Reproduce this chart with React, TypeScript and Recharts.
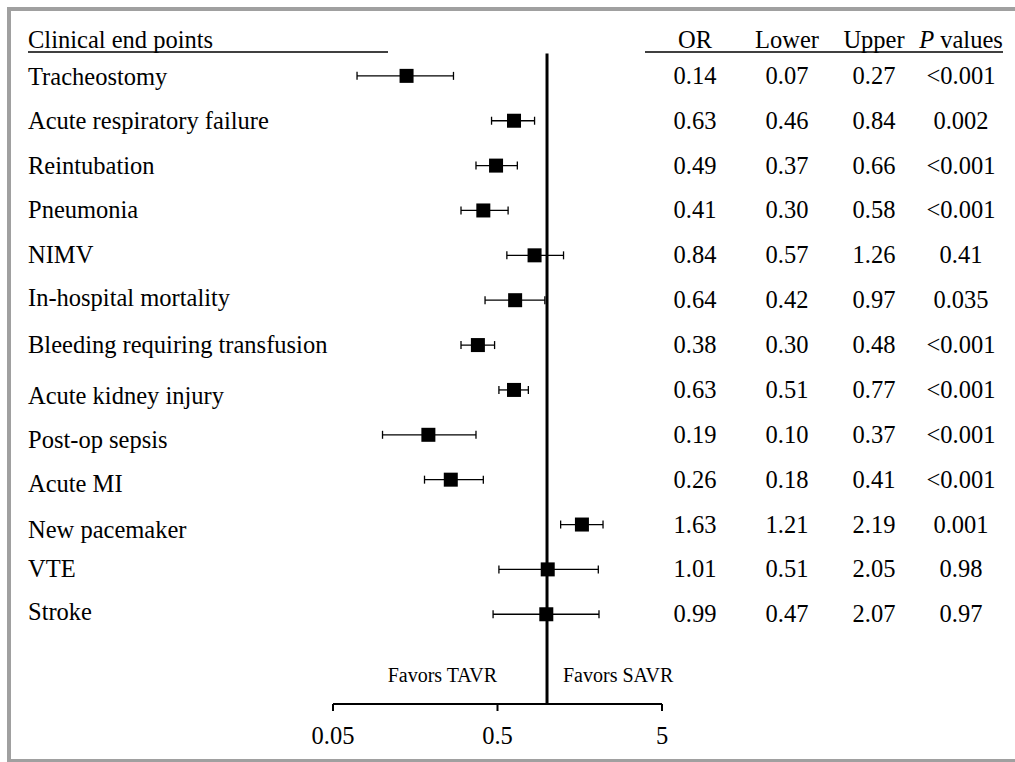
import { ScatterChart, Scatter, XAxis, YAxis, ErrorBar, ReferenceLine } from 'recharts';

const endPoints = [
  'Tracheostomy', 'Acute respiratory failure', 'Reintubation', 'Pneumonia', 'NIMV',
  'In-hospital mortality', 'Bleeding requiring transfusion', 'Acute kidney injury',
  'Post-op sepsis', 'Acute MI', 'New pacemaker', 'VTE', 'Stroke',
];
const orValues = [0.14, 0.63, 0.49, 0.41, 0.84, 0.64, 0.38, 0.63, 0.19, 0.26, 1.63, 1.01, 0.99];
const lowerValues = [0.07, 0.46, 0.37, 0.30, 0.57, 0.42, 0.30, 0.51, 0.10, 0.18, 1.21, 0.51, 0.47];
const upperValues = [0.27, 0.84, 0.66, 0.58, 1.26, 0.97, 0.48, 0.77, 0.37, 0.41, 2.19, 2.05, 2.07];
const pValues = ['<0.001', '0.002', '<0.001', '<0.001', '0.41', '0.035', '<0.001', '<0.001', '<0.001', '<0.001', '0.001', '0.98', '0.97'];
const xTicks = [0.05, 0.5, 5];

const HEADER_ROW = -0.8;
const FAVORS_ROW = 13.35;

const data = endPoints.map((name, i) => ({
  name,
  row: i,
  or: orValues[i],
  ci: [orValues[i] - lowerValues[i], upperValues[i] - orValues[i]],
}));

const font = '"Liberation Serif", "Times New Roman", serif';
const colX = [695, 787, 874, 961];
// the left labels in the source sit a little unevenly against their rows
const labelDy = [9, 8, 8, 8, 8, 6, 8, 14, 13, 12, 13, 8, 6];

const RowTick = (props: any) => {
  const { y, payload } = props;
  const v = payload.value;
  if (v === HEADER_ROW) {
    return (
      <g fontFamily={font} fontSize={24.5} fill="#000">
        <text x={28} y={y} dy={8}>Clinical end points</text>
        <line x1={28} x2={388} y1={52} y2={52} stroke="#000" strokeWidth={1.5} />
        <text x={colX[0]} y={y} dy={8} textAnchor="middle">OR</text>
        <text x={colX[1]} y={y} dy={8} textAnchor="middle">Lower</text>
        <text x={colX[2]} y={y} dy={8} textAnchor="middle">Upper</text>
        <text x={colX[3]} y={y} dy={8} textAnchor="middle">
          <tspan fontStyle="italic">P</tspan> values
        </text>
        <line x1={645} x2={1003} y1={52} y2={52} stroke="#000" strokeWidth={1.5} />
      </g>
    );
  }
  if (v === FAVORS_ROW) {
    return (
      <g fontFamily={font} fontSize={20} fill="#000">
        <text x={497} y={y} dy={7} textAnchor="end">Favors TAVR</text>
        <text x={563} y={y} dy={7} textAnchor="start">Favors SAVR</text>
      </g>
    );
  }
  const i = v as number;
  return (
    <g fontFamily={font} fontSize={24.5} fill="#000">
      <text x={28} y={y} dy={labelDy[i]}>{endPoints[i]}</text>
      <text x={colX[0]} y={y} dy={8} textAnchor="middle">{orValues[i].toFixed(2)}</text>
      <text x={colX[1]} y={y} dy={8} textAnchor="middle">{lowerValues[i].toFixed(2)}</text>
      <text x={colX[2]} y={y} dy={8} textAnchor="middle">{upperValues[i].toFixed(2)}</text>
      <text x={colX[3]} y={y} dy={8} textAnchor="middle">{pValues[i]}</text>
    </g>
  );
};

const Square = (props: any) => {
  const { cx, cy } = props;
  return <rect x={cx - 7} y={cy - 7} width={14} height={14} fill="#000" />;
};

const yTicks = [HEADER_ROW, ...endPoints.map((_, i) => i), FAVORS_ROW];

const App = () => (
  <div style={{ position: 'absolute', left: 0, top: 0, width: 1015, height: 762, background: '#fff', overflow: 'hidden' }}>
    <div
      style={{
        position: 'absolute', left: 7, top: 7, width: 1008, height: 755, boxSizing: 'border-box',
        borderTop: '4px solid #a0a0a0', borderLeft: '4px solid #a0a0a0', borderBottom: '3px solid #a0a0a0',
      }}
    />
    <div style={{ position: 'absolute', left: 0, top: 0 }}>
      <ScatterChart width={1015} height={762} margin={{ top: 31, right: 353, left: 20, bottom: 18 }}>
        <XAxis
          type="number"
          dataKey="or"
          scale="log"
          domain={[0.05, 5]}
          ticks={xTicks}
          allowDataOverflow
          height={40}
          axisLine={{ stroke: '#000', strokeWidth: 2 }}
          tickLine={{ stroke: '#000', strokeWidth: 2 }}
          tickSize={7}
          tickMargin={16}
          tick={{ fontSize: 24.5, fill: '#000', fontFamily: font }}
          interval={0}
        />
        <YAxis
          type="number"
          dataKey="row"
          domain={[-1, 14]}
          reversed
          ticks={yTicks}
          interval={0}
          width={313}
          axisLine={false}
          tickLine={false}
          tick={RowTick}
        />
        <ReferenceLine
          segment={[{ x: 1, y: -0.5 }, { x: 1, y: 14 }]}
          stroke="#000"
          strokeWidth={3}
          ifOverflow="visible"
        />
        <Scatter data={data} shape={Square} isAnimationActive={false}>
          <ErrorBar dataKey="ci" direction="x" width={4} stroke="#000" strokeWidth={1.3} isAnimationActive={false} />
        </Scatter>
      </ScatterChart>
    </div>
  </div>
);

export default App;
